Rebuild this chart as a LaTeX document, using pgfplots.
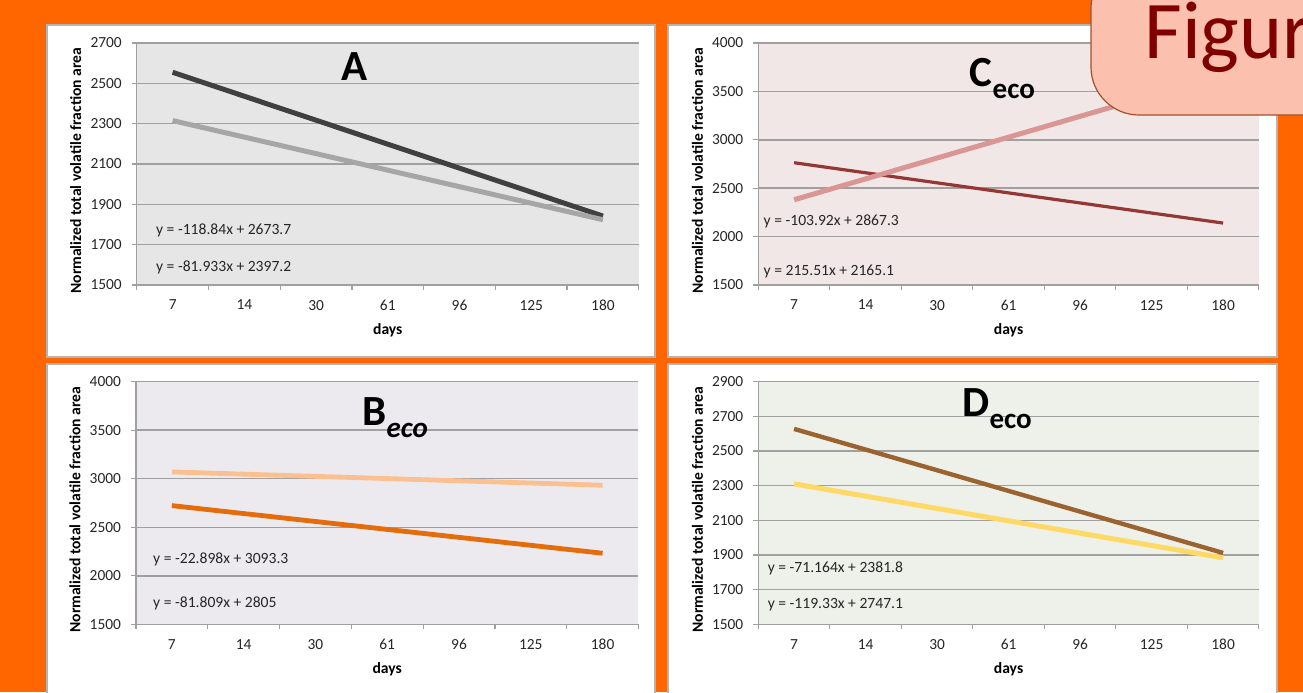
\documentclass[border=0pt]{standalone}
\usepackage{fontspec}
\setmainfont{Carlito}
\usepackage{pgfplots}
\pgfplotsset{compat=1.18}

\definecolor{bgorange}{HTML}{FF6600}
\definecolor{boxgray}{HTML}{B4B4B4}
\definecolor{gridgray}{HTML}{A0A0A0}
\definecolor{bgA}{HTML}{E6E6E6}
\definecolor{bgC}{HTML}{F2E7E7}
\definecolor{bgB}{HTML}{ECEAEF}
\definecolor{bgD}{HTML}{EEF1E9}
\definecolor{darkA}{HTML}{404040}
\definecolor{grayA}{HTML}{A6A6A6}
\definecolor{pinkC}{HTML}{D99694}
\definecolor{redC}{HTML}{953735}
\definecolor{lorangeB}{HTML}{FAC090}
\definecolor{orangeB}{HTML}{E46C0A}
\definecolor{brownD}{HTML}{9A6330}
\definecolor{yellowD}{HTML}{FFD966}
\definecolor{figfill}{HTML}{FBC0AE}
\definecolor{figborder}{HTML}{A0522D}
\definecolor{figtext}{HTML}{800000}

\pgfplotsset{
  panel/.style={
    scale only axis,
    xmin=-0.5, xmax=6.5,
    xtick={0,...,6},
    xticklabels={7,14,30,61,96,125,180},
    minor xtick={-0.5,0.5,...,6.5},
    axis x line*=bottom, axis y line*=left,
    axis line style={draw=gridgray, line width=0.6pt, -},
    ymajorgrids,
    major grid style={draw=gridgray, line width=0.75pt},
    major tick length=0pt,
    minor tick length=2.5pt,
    tick align=outside,
    minor tick style={draw=gridgray, line width=0.6pt},
    tick label style={font=\fontsize{7.7}{9}\selectfont, text=black!85},
    /pgf/number format/assume math mode=true,
    /pgf/number format/set thousands separator={},
    xticklabel style={yshift=-4pt},
    yticklabel style={xshift=-4pt},
    xlabel={days},
    xlabel style={font=\bfseries\fontsize{7.8}{9}\selectfont, at={(axis description cs:0.5,0)}, anchor=base, yshift=-24.75pt},
    ylabel={Normalized total volatile fraction area},
    ylabel style={font=\bfseries\fontsize{7.8}{9}\selectfont, at={(axis description cs:-0.1215,0.472)}, anchor=center},
    clip=false,
  },
}
\tikzset{
  eq/.style={anchor=west, inner sep=0pt, font=\fontsize{7.8}{9}\selectfont, text=black!85},
  ttl/.style={anchor=base west, inner sep=0pt, font=\bfseries\fontsize{21.5}{22}\selectfont},
}
\newcommand{\sub}[1]{\raisebox{-6pt}{\fontsize{14.5}{15}\selectfont #1}}

\begin{document}
\begin{tikzpicture}
\path[use as bounding box] (0,0) rectangle (651.5pt,-346pt);
\clip (0,0) rectangle (651.5pt,-346pt);
\fill[bgorange] (0,0) rectangle (651.5pt,-346pt);

% panel boxes
\filldraw[fill=white, draw=boxgray, line width=0.6pt] (23.5pt,-12.5pt) rectangle (327.5pt,-178.5pt);
\filldraw[fill=white, draw=boxgray, line width=0.6pt] (334pt,-12.5pt) rectangle (638.5pt,-178.5pt);
\filldraw[fill=white, draw=boxgray, line width=0.6pt] (23.5pt,-182pt) rectangle (327.5pt,-352pt);
\filldraw[fill=white, draw=boxgray, line width=0.6pt] (334pt,-182pt) rectangle (638.5pt,-352pt);

% Panel A
\begin{axis}[panel, at={(68.4pt,-142.5pt)}, anchor=south west,
  width=251pt, height=121pt,
  ymin=1500, ymax=2700,
  ytick={1500,1700,...,2700}, minor ytick={1500,1700,...,2700},
  axis background/.style={fill=bgA}]
\addplot[darkA, line width=2.5pt] coordinates {(0,2554.86) (1,2436.02) (2,2317.18) (3,2198.34) (4,2079.50) (5,1960.66) (6,1841.82)};
\addplot[grayA, line width=2.5pt] coordinates {(0,2315.27) (1,2233.33) (2,2151.40) (3,2069.47) (4,1987.53) (5,1905.60) (6,1823.67)};
\node[eq] at (axis description cs:0.0377,0.2244) {y = -118.84x + 2673.7};
\node[eq] at (axis description cs:0.0377,0.0715) {y = -81.933x + 2397.2};
\node[ttl] at (axis description cs:0.407,0.847) {A};
\end{axis}

% Panel C
\begin{axis}[panel, at={(379.15pt,-142.5pt)}, anchor=south west,
  width=250.3pt, height=121pt,
  ymin=1500, ymax=4000,
  ytick={1500,2000,...,4000}, minor ytick={1500,2000,...,4000},
  axis background/.style={fill=bgC}]
\addplot[redC, line width=1.6pt] coordinates {(0,2763.38) (1,2659.46) (2,2555.54) (3,2451.62) (4,2347.70) (5,2243.78) (6,2139.86)};
\addplot[pinkC, line width=2.5pt] coordinates {(0,2380.61) (1,2596.12) (2,2811.63) (3,3027.14) (4,3242.65) (5,3458.16) (6,3673.67)};
\node[eq] at (axis description cs:0.01,0.2616) {y = -103.92x + 2867.3};
\node[eq] at (axis description cs:0.01,0.055) {y = 215.51x + 2165.1};
\node[ttl] at (axis description cs:0.422,0.822) {C\sub{eco}};
\end{axis}

% Panel B
\begin{axis}[panel, at={(68pt,-312.15pt)}, anchor=south west,
  width=251.25pt, height=121.3pt,
  ymin=1500, ymax=4000,
  ytick={1500,2000,...,4000}, minor ytick={1500,2000,...,4000},
  axis background/.style={fill=bgB}]
\addplot[orangeB, line width=2.4pt] coordinates {(0,2723.19) (1,2641.38) (2,2559.57) (3,2477.76) (4,2395.96) (5,2314.15) (6,2232.34)};
\addplot[lorangeB, line width=2.4pt] coordinates {(0,3070.40) (1,3047.50) (2,3024.61) (3,3001.71) (4,2978.81) (5,2955.91) (6,2933.01)};
\node[eq] at (axis description cs:0.0334,0.268) {y = -22.898x + 3093.3};
\node[eq] at (axis description cs:0.0334,0.0866) {y = -81.809x + 2805};
\node[ttl] at (axis description cs:0.45,0.8215) {B\sub{\itshape eco}};
\end{axis}

% Panel D
\begin{axis}[panel, at={(379.15pt,-312.15pt)}, anchor=south west,
  width=250.3pt, height=121.3pt,
  ymin=1500, ymax=2900,
  ytick={1500,1700,...,2900}, minor ytick={1500,1700,...,2900},
  axis background/.style={fill=bgD}]
\addplot[brownD, line width=2.2pt] coordinates {(0,2627.77) (1,2508.44) (2,2389.11) (3,2269.78) (4,2150.45) (5,2031.12) (6,1911.79)};
\addplot[yellowD, line width=2.5pt] coordinates {(0,2310.64) (1,2239.47) (2,2168.31) (3,2097.14) (4,2025.98) (5,1954.82) (6,1883.65)};
\node[eq] at (axis description cs:0.0182,0.2308) {y = -71.164x + 2381.8};
\node[eq] at (axis description cs:0.0182,0.0824) {y = -119.33x + 2747.1};
\node[ttl] at (axis description cs:0.407,0.856) {D\sub{eco}};
\end{axis}

% Figure tab
\filldraw[fill=figfill, draw=figborder, line width=0.6pt, rounded corners=24pt] (545.5pt,20pt) rectangle (700pt,-57.5pt);
\node[anchor=base west, inner sep=0pt, text=figtext, font=\fontsize{41}{43}\selectfont] at (572pt,-29pt) {Figur};
\end{tikzpicture}
\end{document}
